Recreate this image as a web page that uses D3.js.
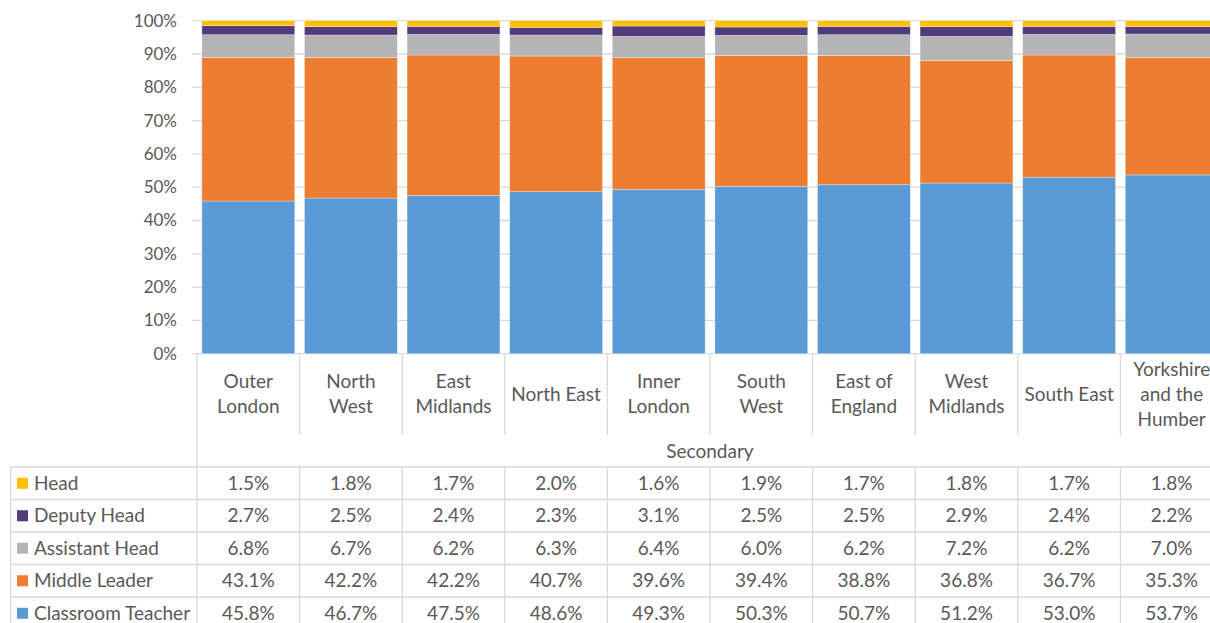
<!DOCTYPE html>
<html><head><meta charset="utf-8">
<script src="https://cdn.jsdelivr.net/npm/d3@7"></script>
<style>html,body{margin:0;padding:0;background:#fff;overflow:hidden}svg{display:block}</style>
</head><body>
<svg id="c" width="1210" height="623"></svg>
<script>
const categories = ["Outer London","North West","East Midlands","North East","Inner London","South West","East of England","West Midlands","South East","Yorkshire and the Humber"];
const categoryLines = [["Outer","London"],["North","West"],["East","Midlands"],["North East"],["Inner","London"],["South","West"],["East of","England"],["West","Midlands"],["South East"],["Yorkshire","and the","Humber"]];
const groupLabel = "Secondary";
const seriesNames = ["Classroom Teacher","Middle Leader","Assistant Head","Deputy Head","Head"];
const classroomTeacher = [45.8,46.7,47.5,48.6,49.3,50.3,50.7,51.2,53.0,53.7];
const middleLeader = [43.1,42.2,42.2,40.7,39.6,39.4,38.8,36.8,36.7,35.3];
const assistantHead = [6.8,6.7,6.2,6.3,6.4,6.0,6.2,7.2,6.2,7.0];
const deputyHead = [2.7,2.5,2.4,2.3,3.1,2.5,2.5,2.9,2.4,2.2];
const head = [1.5,1.8,1.7,2.0,1.6,1.9,1.7,1.8,1.7,1.8];
const yTicks = [0,0.1,0.2,0.3,0.4,0.5,0.6,0.7,0.8,0.9,1.0];
const colors = ["#5B9BD5","#ED7D31","#B4B4B4","#523A7B","#FFC000"];

const seriesValues = [classroomTeacher, middleLeader, assistantHead, deputyHead, head];
const tableOrder = [4,3,2,1,0];

const svg = d3.select("#c");
const FONT = "Lato, 'Open Sans', sans-serif";
const TXT = "#595959";
const LINE = "#D9D9D9";
const FS = 19;

const pLeft = 197, pRight = 1223, pTop = 20.7, pBottom = 353.7;
const x = d3.scaleBand().domain(categories).range([pLeft, pRight]).paddingInner(0.095).paddingOuter(0.0475);
const y = d3.scaleLinear().domain([0,1]).range([pBottom, pTop]);

const rows = categories.map((c,i) => {
  const o = {cat:c};
  const tot = d3.sum(seriesValues, s => s[i]);
  seriesNames.forEach((n,k) => o[n] = seriesValues[k][i] / tot);
  return o;
});
const stack = d3.stack().keys(seriesNames)(rows);

svg.append("g").selectAll("line").data(yTicks).join("line")
  .attr("x1", pLeft - 5).attr("x2", pRight)
  .attr("y1", d => y(d)).attr("y2", d => y(d))
  .attr("stroke", LINE).attr("stroke-width", 1.3);

const yAxis = svg.append("g").attr("transform", `translate(${pLeft},0)`)
  .call(d3.axisLeft(y).tickValues(yTicks).tickFormat(d3.format(".0%")).tickSize(0).tickPadding(20));
yAxis.select(".domain").remove();
yAxis.selectAll("text").attr("font-family", FONT).attr("font-size", 17).attr("fill", TXT);

svg.append("g").selectAll("g").data(stack).join("g")
  .attr("fill", (d,i) => colors[i])
  .selectAll("rect").data(d => d).join("rect")
  .attr("x", d => x(d.data.cat))
  .attr("width", x.bandwidth())
  .attr("y", d => y(d[1]))
  .attr("height", d => y(d[0]) - y(d[1]))
  .attr("stroke", "rgba(255,255,255,0.45)").attr("stroke-width", 0.7);

const step = x.step();
const bounds = categories.map((c,i) => pLeft + i*step);
const tbl = svg.append("g");
const catTop = 354, catBot = 435, secBot = 467, rowH = 32.5, legLeft = 10.7;

bounds.forEach((b,i) => {
  tbl.append("line").attr("x1", b).attr("x2", b)
    .attr("y1", catTop).attr("y2", i === 0 ? secBot + rowH*5 + 5 : catBot)
    .attr("stroke", LINE).attr("stroke-width", 1.3);
});

categoryLines.forEach((lines, i) => {
  const cx = x(categories[i]) + x.bandwidth()/2;
  const n = lines.length;
  lines.forEach((t, j) => {
    tbl.append("text").attr("x", cx).attr("y", 394 + (j - (n-1)/2) * 25)
      .attr("dy", "0.35em").attr("text-anchor", "middle")
      .attr("font-family", FONT).attr("font-size", FS).attr("fill", TXT).text(t);
  });
});

tbl.append("text").attr("x", (pLeft + pRight)/2).attr("y", 451).attr("dy","0.35em")
  .attr("text-anchor","middle").attr("font-family", FONT).attr("font-size", FS).attr("fill", TXT).text(groupLabel);

for (let r = 0; r <= 5; r++) {
  const yy = secBot + r*rowH;
  tbl.append("line").attr("x1", legLeft).attr("x2", pRight).attr("y1", yy).attr("y2", yy)
    .attr("stroke", LINE).attr("stroke-width", 1.3);
}
tbl.append("line").attr("x1", legLeft).attr("x2", legLeft).attr("y1", secBot).attr("y2", secBot + rowH*5 + 5)
  .attr("stroke", LINE).attr("stroke-width", 1.3);
bounds.slice(1).forEach(b => {
  tbl.append("line").attr("x1", b).attr("x2", b).attr("y1", secBot).attr("y2", secBot + rowH*5 + 5)
    .attr("stroke", LINE).attr("stroke-width", 1.3);
});

tableOrder.forEach((k, r) => {
  const cy = secBot + r*rowH + rowH/2;
  tbl.append("rect").attr("x", 17).attr("y", cy - 5.5).attr("width", 11).attr("height", 11).attr("fill", colors[k]);
  tbl.append("text").attr("x", 34).attr("y", cy).attr("dy", "0.35em")
    .attr("font-family", FONT).attr("font-size", FS).attr("fill", TXT).text(seriesNames[k]);
  categories.forEach((c, i) => {
    tbl.append("text").attr("x", x(c) + x.bandwidth()/2).attr("y", cy).attr("dy","0.35em")
      .attr("text-anchor","middle").attr("font-family", FONT).attr("font-size", FS).attr("fill", TXT)
      .text(seriesValues[k][i].toFixed(1) + "%");
  });
});
</script>
</body></html>
